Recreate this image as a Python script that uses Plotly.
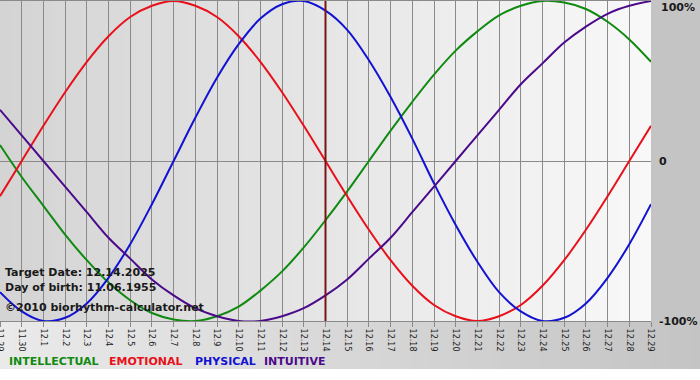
import plotly.graph_objects as go

# ---- data -------------------------------------------------------------
days = ["11.29", "11.30", "12.1", "12.2", "12.3", "12.4", "12.5", "12.6", "12.7",
        "12.8", "12.9", "12.10", "12.11", "12.12", "12.13", "12.14", "12.15",
        "12.16", "12.17", "12.18", "12.19", "12.20", "12.21", "12.22", "12.23",
        "12.24", "12.25", "12.26", "12.27", "12.28", "12.29"]

intellectual = [0.10, -0.10, -0.28, -0.46, -0.62, -0.76, -0.87, -0.95, -0.99, -1.00,
                -0.97, -0.91, -0.81, -0.69, -0.54, -0.37, -0.19, 0.00, 0.19, 0.37,
                0.54, 0.69, 0.81, 0.91, 0.97, 1.00, 0.99, 0.95, 0.87, 0.76, 0.62]
emotional = [-0.22, 0.00, 0.22, 0.43, 0.62, 0.78, 0.90, 0.97, 1.00, 0.97,
             0.90, 0.78, 0.62, 0.43, 0.22, 0.00, -0.22, -0.43, -0.62, -0.78,
             -0.90, -0.97, -1.00, -0.97, -0.90, -0.78, -0.62, -0.43, -0.22, 0.00, 0.22]
physical = [-0.82, -0.94, -1.00, -0.98, -0.89, -0.73, -0.52, -0.27, 0.00, 0.27,
            0.52, 0.73, 0.89, 0.98, 1.00, 0.94, 0.82, 0.63, 0.40, 0.14,
            -0.14, -0.40, -0.63, -0.82, -0.94, -1.00, -0.98, -0.89, -0.73, -0.52, -0.27]
intuitive = [0.32, 0.16, 0.00, -0.16, -0.32, -0.48, -0.61, -0.74, -0.84, -0.92,
             -0.97, -1.00, -1.00, -0.97, -0.92, -0.84, -0.74, -0.61, -0.48, -0.32,
             -0.16, 0.00, 0.16, 0.32, 0.48, 0.61, 0.74, 0.84, 0.92, 0.97, 1.00]

target_day = "12.14"
y_tick_vals = [-1, 0, 1]
y_tick_text = ["-100%", "0", "100%"]

series_names = ["INTELLECTUAL", "EMOTIONAL", "PHYSICAL", "INTUITIVE"]
series_values = [intellectual, emotional, physical, intuitive]
series_colors = ["#108a10", "#e8101a", "#1212d2", "#4b0a8a"]

info_lines = ["Target Date: 12.14.2025", "Day of birth: 11.06.1955",
              "\u00a92010 biorhythm-calculator.net"]

# ---- figure -----------------------------------------------------------
W, H = 700, 380
ML, MR, MT, MB = 0, 49, 1, 59
PW, PH = W - ML - MR, H - MT - MB


def px_x(px):
    return (px - ML) / PW


def px_y(py):
    return (H - MB - py) / PH


fig = go.Figure()

for name, vals, col in zip(series_names, series_values, series_colors):
    fig.add_trace(go.Scatter(x=days, y=vals, mode="lines", name=name,
                             line=dict(color=col, width=2, shape="spline", smoothing=1.0),
                             hoverinfo="skip"))

shapes = []
# plot-area horizontal gradient
n = 62
for i in range(n):
    f = i / (n - 1)
    c = int(round(212 + (248 - 212) * f))
    shapes.append(dict(type="rect", xref="paper", yref="paper",
                       x0=i / n, x1=(i + 1) / n + 0.002, y0=0, y1=px_y(0),
                       fillcolor=f"rgb({c},{c},{c})", line=dict(width=0), layer="below"))
# right margin
shapes.append(dict(type="rect", xref="paper", yref="paper",
                   x0=1, x1=px_x(W), y0=px_y(H - MB), y1=px_y(0),
                   fillcolor="rgb(196,196,196)", line=dict(width=0), layer="below"))
# bottom strip gradient
m = 70
for i in range(m):
    f = i / (m - 1)
    c = int(round(234 + (196 - 234) * f))
    shapes.append(dict(type="rect", xref="paper", yref="paper",
                       x0=px_x(W * i / m), x1=px_x(W * (i + 1) / m + 1),
                       y0=px_y(369), y1=px_y(H - MB),
                       fillcolor=f"rgb({c},{c},{c})", line=dict(width=0), layer="below"))
# target day marker (category index of the target day)
t_idx = days.index(target_day)
shapes.append(dict(type="line", xref="x", yref="paper", x0=t_idx, x1=t_idx,
                   y0=0, y1=1, line=dict(color="#7a1414", width=2), layer="above"))

tick_font = dict(family="DejaVu Sans", size=11, color="#1a1a1a", weight="bold")

annotations = []
info_y = [272, 287, 307]
for txt, py in zip(info_lines, info_y):
    annotations.append(dict(text=txt, xref="paper", yref="paper", x=px_x(3), y=px_y(py),
                            xanchor="left", yanchor="middle", showarrow=False,
                            font=tick_font))
legend_x = [7, 107, 193, 262]
for name, col, lx in zip(series_names, series_colors, legend_x):
    annotations.append(dict(text=name, xref="paper", yref="paper", x=px_x(lx), y=px_y(361.5),
                            xanchor="left", yanchor="middle", showarrow=False,
                            font=dict(family="DejaVu Sans", size=11, color=col,
                                      weight="bold")))
# top tick label sits just inside the page edge
annotations.append(dict(text=y_tick_text[2], xref="paper", yref="y", x=px_x(659),
                        y=y_tick_vals[2], yshift=-6, xanchor="left", yanchor="middle",
                        showarrow=False, font=tick_font))

fig.update_layout(
    width=W, height=H, autosize=False,
    margin=dict(l=ML, r=MR, t=MT, b=MB, pad=0),
    paper_bgcolor="white", plot_bgcolor="rgba(0,0,0,0)",
    showlegend=False, shapes=shapes, annotations=annotations,
    xaxis=dict(type="category", range=[0, len(days) - 1], showgrid=True,
               gridcolor="#8a8a8a", gridwidth=1, ticks="outside", ticklen=5,
               tickcolor="#8a8a8a", tickwidth=1, tickangle=90, automargin=False,
               tickfont=dict(family="DejaVu Sans", size=8, color="#222222"),
               showline=True, linecolor="#8a8a8a", linewidth=1, mirror=True,
               zeroline=False, fixedrange=True),
    yaxis=dict(range=[-1, 1], tickvals=y_tick_vals[:2], ticktext=y_tick_text[:2], side="right",
               showgrid=False, zeroline=True, zerolinecolor="#8a8a8a", zerolinewidth=1,
               ticks="", ticklabelstandoff=7, automargin=False,
               tickfont=tick_font, showline=False, fixedrange=True),
)

fig.write_html("out.html", config={"displayModeBar": False},
               post_script="document.body.style.margin='0';document.body.style.padding='0';")
